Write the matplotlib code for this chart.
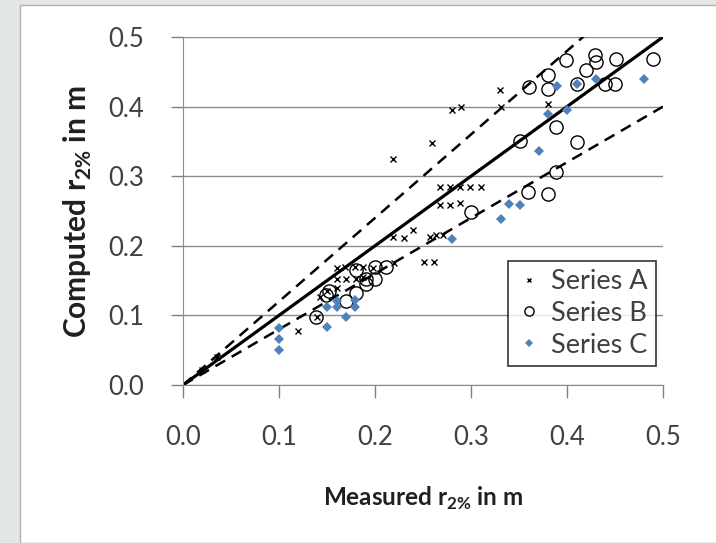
import numpy as np
import matplotlib
matplotlib.use("Agg")
import matplotlib.pyplot as plt
from matplotlib.patches import Rectangle

plt.rcParams['font.family'] = ['Lato', 'DejaVu Sans']
plt.rcParams['mathtext.fontset'] = 'custom'
plt.rcParams['mathtext.rm'] = 'Lato'
plt.rcParams['mathtext.bf'] = 'Lato:bold'

# Series A (x markers)
a_x = [0.02, 0.035, 0.120, 0.143, 0.150, 0.160, 0.140,
       0.160, 0.169, 0.179, 0.188, 0.198,
       0.160, 0.170, 0.180, 0.188,
       0.219, 0.230, 0.240, 0.220, 0.251, 0.261,
       0.257, 0.264, 0.271,
       0.268, 0.278, 0.289, 0.299, 0.310,
       0.268, 0.278, 0.289,
       0.219, 0.259, 0.280, 0.290, 0.330, 0.331, 0.380]
a_y = [0.022, 0.040, 0.078, 0.127, 0.135, 0.140, 0.097,
       0.168, 0.170, 0.170, 0.170, 0.168,
       0.152, 0.152, 0.152, 0.155,
       0.213, 0.211, 0.223, 0.176, 0.177, 0.177,
       0.213, 0.215, 0.216,
       0.285, 0.285, 0.285, 0.285, 0.285,
       0.259, 0.259, 0.261,
       0.324, 0.347, 0.395, 0.400, 0.424, 0.399, 0.404]

# Series B (open circles)
b_x = [0.139, 0.149, 0.152, 0.170, 0.180, 0.180, 0.191, 0.191, 0.200, 0.200,
       0.211, 0.300, 0.351, 0.359, 0.380, 0.389, 0.389, 0.410, 0.360, 0.380,
       0.380, 0.399, 0.410, 0.420, 0.429, 0.430, 0.440, 0.450, 0.451, 0.490]
b_y = [0.097, 0.130, 0.135, 0.120, 0.132, 0.165, 0.152, 0.145, 0.170, 0.152,
       0.170, 0.249, 0.350, 0.278, 0.274, 0.306, 0.370, 0.349, 0.428, 0.425,
       0.445, 0.467, 0.432, 0.453, 0.474, 0.464, 0.432, 0.432, 0.469, 0.469]

# Series C (blue diamonds)
c_x = [0.100, 0.100, 0.100, 0.150, 0.160, 0.170, 0.150, 0.179, 0.179, 0.160,
       0.280, 0.331, 0.340, 0.351, 0.371, 0.380, 0.390, 0.400, 0.410, 0.430, 0.480]
c_y = [0.082, 0.066, 0.050, 0.112, 0.112, 0.098, 0.084, 0.122, 0.112, 0.120,
       0.210, 0.239, 0.260, 0.258, 0.336, 0.389, 0.430, 0.395, 0.432, 0.440, 0.439]

ticks = [0.0, 0.1, 0.2, 0.3, 0.4, 0.5]
tick_labels = ['0.0', '0.1', '0.2', '0.3', '0.4', '0.5']

fig = plt.figure(figsize=(7.16, 5.43), dpi=100, facecolor='#e3e7e5')
fig.patches.append(Rectangle((20 / 716, 0), 1, 1 - 5 / 543, transform=fig.transFigure,
                             facecolor='white', edgecolor='#b0b0b0', lw=1, zorder=-5))
ax = fig.add_axes([183 / 716, 1 - 385 / 543, 480 / 716, 348 / 543])
ax.set_facecolor('none')
ax.set_zorder(2)

line = np.array([0.0, 0.5])
ax.plot(line, line, color='black', lw=2.3, zorder=2)
ax.plot(line, line * 1.2, color='black', lw=1.8, dashes=(4.5, 3), zorder=2)
ax.plot(line, line * 0.8, color='black', lw=1.8, dashes=(4.5, 3), zorder=2)

ax.plot(a_x, a_y, ls='none', marker='x', ms=5, mew=1, color='black', label='Series A', zorder=3)
ax.plot(b_x, b_y, ls='none', marker='o', ms=9.5, mew=1, mfc='none', mec='black', label='Series B', zorder=3)
ax.plot(c_x, c_y, ls='none', marker='D', ms=5.5, mew=0, color='#4F81BD', label='Series C', zorder=4)

ax.set_xlim(0, 0.5)
ax.set_ylim(0, 0.5)
ax.set_xticks(ticks)
ax.set_xticklabels(tick_labels)
ax.set_yticks(ticks)
ax.set_yticklabels(tick_labels)
ax.tick_params(axis='both', colors='#808080', labelcolor='#404040', labelsize=18.5, length=9, width=1)
ax.tick_params(axis='y', pad=19)
ax.tick_params(axis='x', pad=20)
ax.grid(axis='y', color='#8c8c8c', lw=1)
for s in ['top', 'right']:
    ax.spines[s].set_visible(False)
for s in ['left', 'bottom']:
    ax.spines[s].set_color('#8c8c8c')

fig.text(423 / 716, 1 - 498 / 543, r'Measured r$_{\mathbf{2\%}}$ in m', ha='center', va='center',
         fontsize=17.5, fontweight='bold', color='#202020')
fig.text(78 / 716, 1 - 212 / 543, r'Computed r$_{\mathbf{2\%}}$ in m', ha='center', va='center',
         rotation=90, fontsize=21.5, fontweight='bold', color='#202020')

leg = ax.legend(loc='lower right', bbox_to_anchor=(0.985, 0.055), fontsize=19.5, frameon=True,
                fancybox=False, edgecolor='black', borderaxespad=0, handletextpad=0.3,
                handlelength=1.0, markerscale=0.7, labelspacing=0.25, borderpad=0.3)
leg.get_frame().set_linewidth(1.2)
for t in leg.get_texts():
    t.set_color('#404040')

fig.savefig('out.png', dpi=100, facecolor=fig.get_facecolor())
